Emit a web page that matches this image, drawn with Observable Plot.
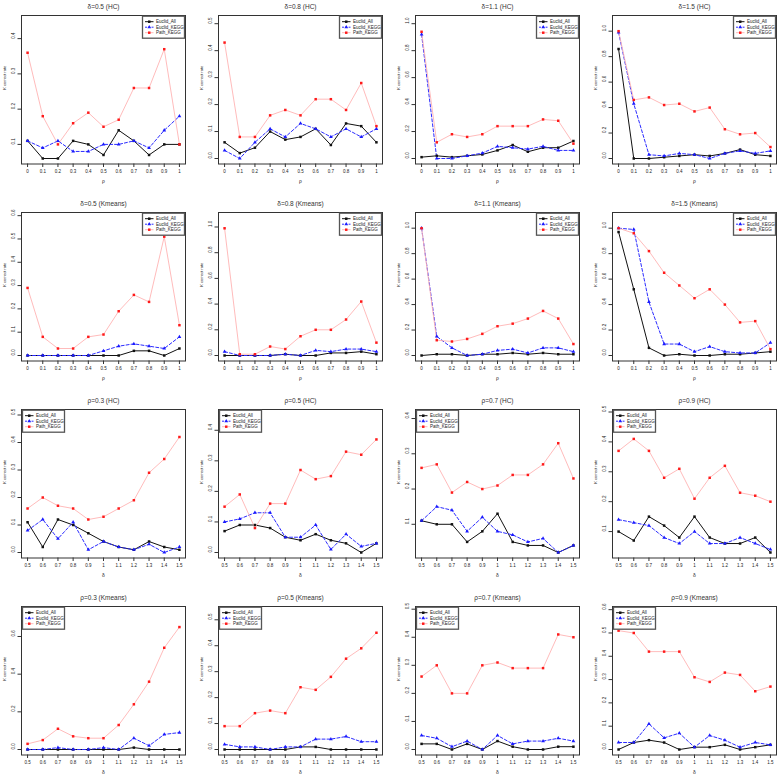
<!DOCTYPE html>
<html><head><meta charset="utf-8">
<script src="https://cdn.jsdelivr.net/npm/d3@7"></script>
<script src="https://cdn.jsdelivr.net/npm/@observablehq/plot@0.6"></script>
<style>
body{margin:0;background:#fff;}
#wrap{position:relative;width:778px;height:776px;overflow:hidden;background:#fff;}
.panel{position:absolute;width:197px;height:197px;}
.panel svg{max-width:none !important;width:197px;height:197px;display:block;}
svg text{font-family:"Liberation Sans",Arial,sans-serif;font-weight:normal;}
</style></head><body><div id="wrap"></div>
<script>
// x values and tick labels
const rhoVals = [0,0.1,0.2,0.3,0.4,0.5,0.6,0.7,0.8,0.9,1];
const rhoTickLabels = ["0","0.1","0.2","0.3","0.4","0.5","0.6","0.7","0.8","0.9","1"];
const deltaVals = [0.5,0.6,0.7,0.8,0.9,1,1.1,1.2,1.3,1.4,1.5];
const deltaTickLabels = ["0.5","0.6","0.7","0.8","0.9","1","1.1","1.2","1.3","1.4","1.5"];
const seriesNames = ["Euclid_All","Euclid_KEGG","Path_KEGG"];
const panelTitles = [
  "δ=0.5 (HC)","δ=0.8 (HC)","δ=1.1 (HC)","δ=1.5 (HC)",
  "δ=0.5 (Kmeans)","δ=0.8 (Kmeans)","δ=1.1 (Kmeans)","δ=1.5 (Kmeans)",
  "ρ=0.3 (HC)","ρ=0.5 (HC)","ρ=0.7 (HC)","ρ=0.9 (HC)",
  "ρ=0.3 (Kmeans)","ρ=0.5 (Kmeans)","ρ=0.7 (Kmeans)","ρ=0.9 (Kmeans)"
];

// Row 1: HC, varying rho
const hcD05_all  = [0.11,0.06,0.06,0.11,0.10,0.07,0.14,0.11,0.07,0.10,0.10];
const hcD05_kegg = [0.11,0.09,0.11,0.08,0.08,0.10,0.10,0.11,0.09,0.14,0.18];
const hcD05_path = [0.36,0.18,0.10,0.16,0.19,0.15,0.17,0.26,0.26,0.37,0.10];
const hcD08_all  = [0.06,0.02,0.04,0.10,0.07,0.08,0.11,0.05,0.13,0.12,0.06];
const hcD08_kegg = [0.03,0.00,0.06,0.11,0.08,0.13,0.11,0.08,0.11,0.08,0.11];
const hcD08_path = [0.43,0.08,0.08,0.16,0.18,0.16,0.22,0.22,0.18,0.28,0.12];
const hcD11_all  = [0.01,0.02,0.01,0.02,0.03,0.06,0.10,0.05,0.08,0.08,0.13];
const hcD11_kegg = [0.92,0.00,0.00,0.02,0.04,0.09,0.08,0.07,0.09,0.06,0.06];
const hcD11_path = [0.94,0.12,0.18,0.16,0.18,0.24,0.24,0.24,0.29,0.28,0.11];
const hcD15_all  = [0.86,0.00,0.00,0.01,0.02,0.03,0.02,0.04,0.07,0.03,0.02];
const hcD15_kegg = [0.99,0.43,0.03,0.02,0.04,0.03,0.00,0.04,0.06,0.04,0.06];
const hcD15_path = [1.00,0.46,0.48,0.42,0.43,0.37,0.40,0.23,0.19,0.20,0.09];
// Row 2: Kmeans, varying rho
const kmD05_all  = [0,0,0,0,0,0,0,0.02,0.02,0,0.03];
const kmD05_kegg = [0,0,0,0,0,0.02,0.04,0.05,0.04,0.03,0.08];
const kmD05_path = [0.29,0.08,0.03,0.03,0.08,0.09,0.19,0.26,0.23,0.51,0.13];
const kmD08_all  = [0,0,0,0,0.01,0,0,0.02,0.02,0.03,0.01];
const kmD08_kegg = [0.03,0,0,0,0.01,0,0.04,0.03,0.05,0.05,0.03];
const kmD08_path = [0.99,0.01,0.01,0.07,0.05,0.15,0.20,0.20,0.28,0.42,0.10];
const kmD11_all  = [0,0.01,0.01,0,0.01,0.01,0.02,0.01,0.02,0.01,0.01];
const kmD11_kegg = [1.00,0.15,0.06,0,0.01,0.04,0.05,0.02,0.06,0.06,0.03];
const kmD11_path = [1.00,0.12,0.11,0.13,0.17,0.23,0.25,0.29,0.35,0.29,0.09];
const kmD15_all  = [0.97,0.52,0.06,0,0.01,0,0,0.01,0.01,0.02,0.03];
const kmD15_kegg = [1.00,0.99,0.42,0.09,0.09,0.03,0.07,0.03,0.02,0.02,0.10];
const kmD15_path = [1.00,0.96,0.82,0.65,0.55,0.45,0.52,0.40,0.26,0.27,0.05];
// Row 3: HC, varying delta
const hcR03_all  = [0.11,0.02,0.12,0.10,0.07,0.04,0.02,0.01,0.04,0.02,0.01];
const hcR03_kegg = [0.08,0.12,0.05,0.11,0.01,0.04,0.02,0.01,0.03,0.00,0.02];
const hcR03_path = [0.16,0.20,0.17,0.16,0.12,0.13,0.16,0.19,0.29,0.34,0.42];
const hcR05_all  = [0.07,0.09,0.09,0.08,0.05,0.04,0.06,0.04,0.03,0.00,0.03];
const hcR05_kegg = [0.10,0.11,0.13,0.13,0.05,0.05,0.09,0.01,0.06,0.02,0.03];
const hcR05_path = [0.15,0.19,0.08,0.16,0.16,0.27,0.24,0.25,0.33,0.32,0.37];
const hcR07_all  = [0.11,0.10,0.10,0.05,0.08,0.13,0.05,0.04,0.04,0.02,0.04];
const hcR07_kegg = [0.11,0.15,0.14,0.08,0.12,0.08,0.07,0.05,0.06,0.02,0.04];
const hcR07_path = [0.26,0.27,0.19,0.22,0.20,0.21,0.24,0.24,0.27,0.33,0.23];
const hcR09_all  = [0.10,0.07,0.15,0.12,0.08,0.15,0.08,0.06,0.06,0.08,0.03];
const hcR09_kegg = [0.14,0.13,0.12,0.08,0.06,0.10,0.06,0.06,0.08,0.06,0.04];
const hcR09_path = [0.37,0.41,0.37,0.28,0.31,0.21,0.28,0.32,0.23,0.22,0.20];
// Row 4: Kmeans, varying delta
const kmR03_all  = [0,0,0,0,0,0,0,0.01,0,0,0];
const kmR03_kegg = [0,0,0.01,0,0,0.01,0,0.06,0.02,0.08,0.09];
const kmR03_path = [0.03,0.05,0.11,0.07,0.06,0.06,0.13,0.24,0.36,0.54,0.65];
const kmR05_all  = [0,0,0,0,0,0.01,0.01,0,0,0,0];
const kmR05_kegg = [0.02,0.01,0.01,0,0.01,0.01,0.04,0.04,0.05,0.03,0.03];
const kmR05_path = [0.09,0.09,0.14,0.15,0.14,0.24,0.23,0.28,0.35,0.39,0.45];
const kmR07_all  = [0.02,0.02,0,0.02,0,0.03,0.01,0,0,0.01,0.01];
const kmR07_kegg = [0.05,0.04,0.01,0.03,0,0.05,0.02,0.03,0.03,0.04,0.03];
const kmR07_path = [0.26,0.30,0.20,0.20,0.30,0.31,0.29,0.29,0.29,0.41,0.40];
const kmR09_all  = [0,0.03,0.04,0.03,0,0.01,0.01,0.02,0,0.01,0.02];
const kmR09_kegg = [0.03,0.03,0.11,0.05,0.07,0.01,0.06,0.04,0.01,0.03,0.02];
const kmR09_path = [0.51,0.50,0.42,0.42,0.42,0.31,0.29,0.33,0.32,0.25,0.27];

const panelSeries = [
  [hcD05_all,hcD05_kegg,hcD05_path],[hcD08_all,hcD08_kegg,hcD08_path],
  [hcD11_all,hcD11_kegg,hcD11_path],[hcD15_all,hcD15_kegg,hcD15_path],
  [kmD05_all,kmD05_kegg,kmD05_path],[kmD08_all,kmD08_kegg,kmD08_path],
  [kmD11_all,kmD11_kegg,kmD11_path],[kmD15_all,kmD15_kegg,kmD15_path],
  [hcR03_all,hcR03_kegg,hcR03_path],[hcR05_all,hcR05_kegg,hcR05_path],
  [hcR07_all,hcR07_kegg,hcR07_path],[hcR09_all,hcR09_kegg,hcR09_path],
  [kmR03_all,kmR03_kegg,kmR03_path],[kmR05_all,kmR05_kegg,kmR05_path],
  [kmR07_all,kmR07_kegg,kmR07_path],[kmR09_all,kmR09_kegg,kmR09_path]
];

const seriesStyle = [
  {stroke:"#111", dash:null, fill:"#111", symbol:"square", r:1.4, width:1},
  {stroke:"#2b2bff", dash:"3,2", fill:"#1a1aff", symbol:"triangle", r:1.4, width:1},
  {stroke:"#ffb3b3", dash:null, fill:"#ff1a1a", symbol:"square", r:1.4, width:0.9}
];

const PW = 197, PH = 197;
const ML = 21, MR = 12, MT = 15, MB = 33.5;
const wrap = document.getElementById("wrap");
const fmt1 = d3.format(".1f");

panelTitles.forEach((title, i) => {
  const row = Math.floor(i / 4), col = i % 4;
  const byRho = row < 2;
  const xs = byRho ? rhoVals : deltaVals;
  const xLabels = byRho ? rhoTickLabels : deltaTickLabels;
  const series = panelSeries[i];
  const data = [];
  series.forEach((vals, s) => vals.forEach((v, j) => data.push({x: xs[j], y: v, s})));
  const all = data.map(d => d.y);
  const lo = d3.min(all), hi = d3.max(all) + 0.08;
  const pad = 0.04 * (hi - lo);
  const yd = [lo - pad, hi + pad];
  const xspan = xs[xs.length-1] - xs[0];
  const xd = [xs[0] - 0.04*xspan, xs[xs.length-1] + 0.04*xspan];
  const yt = d3.ticks(yd[0], yd[1], 5).filter(t => t >= yd[0] && t <= yd[1]);

  const marks = [
    Plot.frame({stroke:"#333", strokeWidth:1}),
    Plot.axisX({ticks: xs, tickSize: 3.5, tickPadding: 2.5, fontSize: 4.5, label: null,
      tickFormat: d => xLabels[xs.indexOf(d)], stroke:"#333"}),
    Plot.axisY({ticks: yt, tickSize: 3.5, tickFormat: () => "", label: null, stroke:"#333"}),
    Plot.text(yt, {y: d => d, text: d => fmt1(d), frameAnchor: "left", dx: -8, rotate: -90, fontSize: 4.5, fill:"#222"}),
    Plot.text([title], {text: d => d, frameAnchor: "top", dy: -11, fontSize: 6.5, fill:"#333"}),
    Plot.text([byRho ? "ρ" : "δ"], {text: d => d, frameAnchor: "bottom", dy: 18.5, fontSize: 5, fill:"#222"}),
    Plot.text(["K correct rate"], {text: d => d, frameAnchor: "left", dx: -17, rotate: -90, fontSize: 4, fill:"#222"})
  ];
  seriesStyle.forEach((st, s) => {
    const sub = data.filter(d => d.s === s);
    marks.push(Plot.line(sub, {x: "x", y: "y", stroke: st.stroke, strokeWidth: st.width, strokeDasharray: st.dash}));
  });
  seriesStyle.forEach((st, s) => {
    const sub = data.filter(d => d.s === s);
    marks.push(Plot.dot(sub, {x: "x", y: "y", symbol: st.symbol, r: st.r, fill: st.fill, stroke: "none"}));
  });

  const svg = Plot.plot({
    width: PW, height: PH,
    marginLeft: ML, marginRight: MR, marginTop: MT, marginBottom: MB,
    x: {domain: xd},
    y: {domain: yd},
    style: {background: "transparent", color: "#222", fontFamily: "Liberation Sans, Arial, sans-serif", fontSize: "4.5px", maxWidth: "none"},
    marks
  });

  // legend box
  const lw = 42, lh = 22;
  const boxRight = PW - MR, boxLeft = ML;
  const lx = byRho ? boxRight - lw - 0.5 : boxLeft + 1.5;
  const ly = MT + 1.2;
  const g = d3.select(svg).append("g").attr("text-anchor", "start");
  g.append("rect").attr("x", lx).attr("y", ly).attr("width", lw).attr("height", lh)
    .attr("fill", "#fff").attr("stroke", "#555").attr("stroke-width", 1.3);
  seriesNames.forEach((name, k) => {
    const st = seriesStyle[k];
    const yy = ly + 5.5 + k * 5.5;
    g.append("line").attr("x1", lx + 2.5).attr("x2", lx + 11).attr("y1", yy).attr("y2", yy)
      .attr("stroke", st.stroke).attr("stroke-width", st.width)
      .attr("stroke-dasharray", st.dash ? "2,1.3" : null);
    const sym = st.symbol === "triangle" ? d3.symbolTriangle : d3.symbolSquare;
    g.append("path").attr("d", d3.symbol(sym, Math.PI * st.r * st.r)())
      .attr("transform", `translate(${lx + 6.75},${yy})`).attr("fill", st.fill);
    g.append("text").attr("x", lx + 13.5).attr("y", yy).attr("dy", "0.35em")
      .attr("text-anchor", "start")
      .attr("font-size", 4.5).attr("fill", "#222").text(name);
  });

  const div = document.createElement("div");
  div.className = "panel";
  div.style.left = (col * PW) + "px";
  div.style.top = (row * PH) + "px";
  div.appendChild(svg);
  wrap.appendChild(div);
});
</script></body></html>
